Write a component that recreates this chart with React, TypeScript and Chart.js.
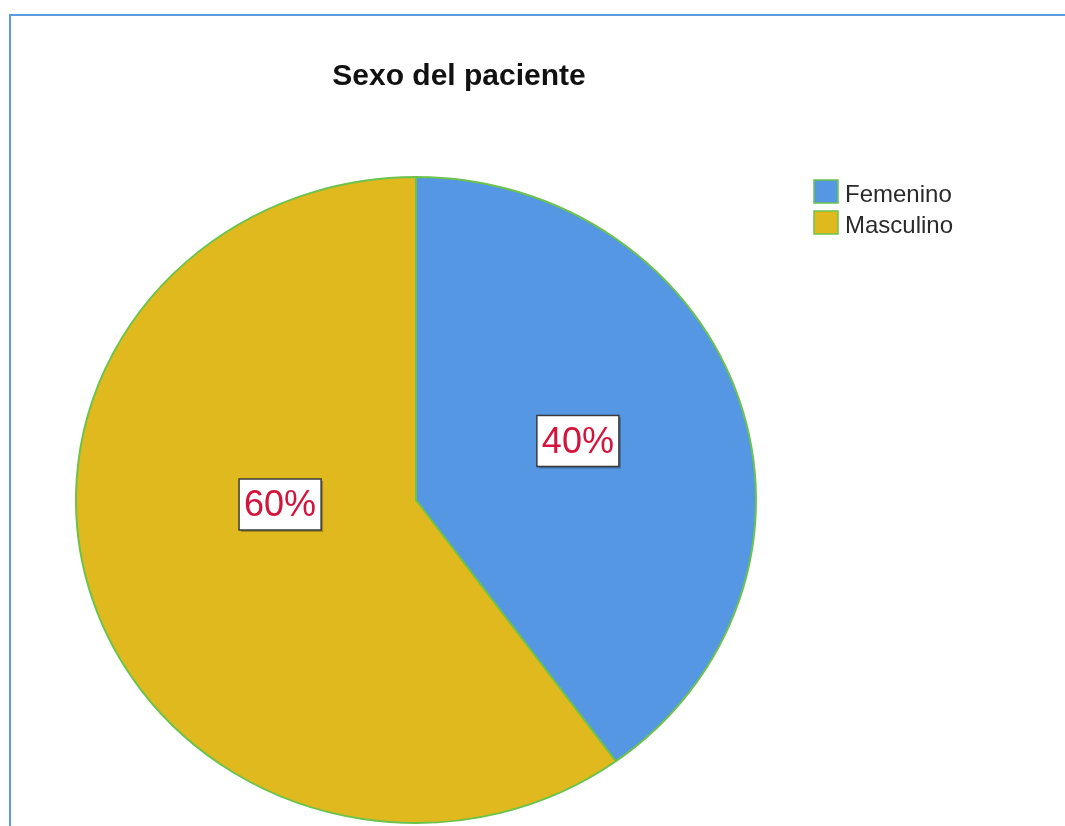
import React, { useEffect, useRef } from "react";
import { Chart, registerables } from "chart.js";

Chart.register(...registerables);

const chartTitle = "Sexo del paciente";
const categories = ["Femenino", "Masculino"];
const percentages = [40, 60];
const sliceColors = ["#5597e3", "#e0b91e"];
const edgeColor = "#6cc34c";

const FONT = "'Liberation Sans', Arial, sans-serif";
const Y_SQUASH = 0.95;

// label placement per slice: angle shift (deg) and radius fraction
const labelPlacement = [
  { shift: -3, frac: 0.51 },
  { shift: 16, frac: 0.4 },
];

const ellipsePlugin = {
  id: "ellipse",
  beforeDatasetsDraw(chart: any) {
    const { ctx, chartArea } = chart;
    const cx = (chartArea.left + chartArea.right) / 2;
    const cy = (chartArea.top + chartArea.bottom) / 2;
    ctx.save();
    ctx.translate(cx, cy);
    ctx.scale(1, Y_SQUASH);
    ctx.translate(-cx, -cy);
  },
  afterDatasetsDraw(chart: any) {
    chart.ctx.restore();
  },
};

const decorPlugin = {
  id: "decor",
  afterDraw(chart: any) {
    const ctx = chart.ctx as CanvasRenderingContext2D;
    ctx.save();
    // frame
    ctx.strokeStyle = "#5b9be0";
    ctx.lineWidth = 2;
    ctx.beginPath();
    ctx.moveTo(1065, 15);
    ctx.lineTo(10, 15);
    ctx.lineTo(10, 826);
    ctx.stroke();

    // title
    ctx.fillStyle = "#111";
    ctx.font = `bold 30px ${FONT}`;
    ctx.textAlign = "center";
    ctx.textBaseline = "alphabetic";
    ctx.fillText(chartTitle, 459, 85);

    // legend
    ctx.textAlign = "left";
    ctx.font = `24px ${FONT}`;
    categories.forEach((label, i) => {
      const y = 180 + i * 31;
      ctx.fillStyle = sliceColors[i];
      ctx.fillRect(814, y, 24, 23);
      ctx.strokeStyle = edgeColor;
      ctx.lineWidth = 1.5;
      ctx.strokeRect(814, y, 24, 23);
      ctx.fillStyle = "#2a2a2a";
      ctx.fillText(label, 845, y + 22);
    });

    // value labels
    const meta = chart.getDatasetMeta(0);
    ctx.font = `36px ${FONT}`;
    ctx.textAlign = "center";
    ctx.textBaseline = "middle";
    meta.data.forEach((arc: any, i: number) => {
      const p = arc.getProps(["x", "y", "startAngle", "endAngle", "outerRadius"], true);
      const place = labelPlacement[i];
      const ang = (p.startAngle + p.endAngle) / 2 + (place.shift * Math.PI) / 180;
      const r = p.outerRadius * place.frac;
      const px = p.x + Math.cos(ang) * r;
      const py = p.y + Math.sin(ang) * r * Y_SQUASH;
      const text = `${percentages[i]}%`;
      const w = ctx.measureText(text).width + 10;
      const h = 51;
      const bx = px - w / 2;
      const by = py - h / 2;
      ctx.fillStyle = "rgba(0,0,0,0.25)";
      ctx.fillRect(bx + 2, by + 2, w, h);
      ctx.fillStyle = "#ffffff";
      ctx.fillRect(bx, by, w, h);
      ctx.strokeStyle = "#3a3a3a";
      ctx.lineWidth = 1.5;
      ctx.strokeRect(bx, by, w, h);
      ctx.fillStyle = "#d3143c";
      ctx.fillText(text, px, py + 2);
    });
    ctx.restore();
  },
};

export default function App() {
  const canvasRef = useRef<HTMLCanvasElement | null>(null);

  useEffect(() => {
    if (!canvasRef.current) return;
    const chart = new Chart(canvasRef.current, {
      type: "pie",
      data: {
        labels: categories,
        datasets: [
          {
            data: percentages,
            backgroundColor: sliceColors,
            borderColor: edgeColor,
            borderWidth: 2,
            radius: 340,
            clip: false as any,
          } as any,
        ],
      },
      options: {
        responsive: false,
        animation: false,
        layout: { padding: { left: 76, right: 309, top: 174, bottom: 0 } },
        plugins: {
          legend: { display: false },
          title: { display: false },
          tooltip: { enabled: false },
        },
      },
      plugins: [ellipsePlugin, decorPlugin],
    });
    return () => chart.destroy();
  }, []);

  return (
    <div style={{ position: "absolute", left: 0, top: 0, width: 1065, height: 826, background: "#fff" }}>
      <canvas ref={canvasRef} width={1065} height={826} style={{ display: "block" }} />
    </div>
  );
}
